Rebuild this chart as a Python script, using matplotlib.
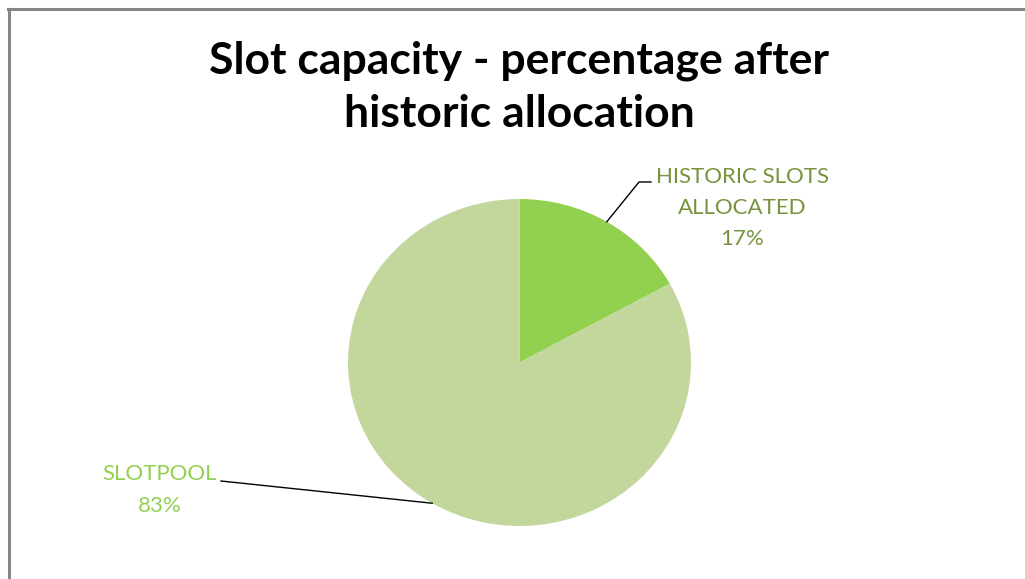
import numpy as np
import matplotlib.pyplot as plt
from matplotlib.lines import Line2D

labels = ["HISTORIC SLOTS\nALLOCATED", "SLOTPOOL"]
shares = [17, 83]
slice_colors = ["#92D050", "#C3D69B"]
label_colors = ["#77933C", "#92D050"]

W, H = 1025, 579
fig = plt.figure(figsize=(W / 100, H / 100), dpi=100)
ax = fig.add_axes([0, 0, 1, 1])

# pie is a bit wider than tall in the reference (stretched picture)
cx, cy, rx, ry = 519.5, 362.5, 171.5, 163.5


def to_data(px, py):
    return (px - cx) / rx, (cy - py) / ry


wedges, _ = ax.pie(shares, colors=slice_colors, startangle=90, counterclock=False,
                   radius=1, wedgeprops=dict(linewidth=0))
ax.set_aspect("auto")
ax.set_xlim(-cx / rx, (W - cx) / rx)
ax.set_ylim(-(H - cy) / ry, cy / ry)
ax.axis("off")

# chart frame (only top and left edges show)
fig.add_artist(Line2D([8 / W, 1], [1 - 8.5 / H, 1 - 8.5 / H], color="#868686", lw=2.2))
fig.add_artist(Line2D([8.5 / W, 8.5 / W], [0, 1 - 8.5 / H], color="#868686", lw=2.2))

ax.text(*to_data(519, 87), "Slot capacity - percentage after\nhistoric allocation",
        ha="center", va="center", fontsize=32, fontweight="bold",
        family="Lato", linespacing=1.38)

total = sum(shares)
start = 90.0
label_pos = [(742, 208, 651, 182), (160, 490, 221, 481)]
for i, (lab, v) in enumerate(zip(labels, shares)):
    mid = np.deg2rad(start - v / total * 360 / 2)
    start -= v / total * 360
    ex, ey = np.cos(mid), np.sin(mid)
    tx, ty, lx, ly = label_pos[i]
    lx, ly = to_data(lx, ly)
    if i == 0:
        kx, _ = to_data(639, 182)
        ax.plot([ex, kx, lx], [ey, ly, ly], color="black", lw=1)
    else:
        ax.plot([ex, lx], [ey, ly], color="black", lw=1)
    ax.text(*to_data(tx, ty), f"{lab}\n{v}%", ha="center", va="center", fontsize=16,
            color=label_colors[i], family="Lato", linespacing=1.7)

fig.savefig("out.png", dpi=100)
